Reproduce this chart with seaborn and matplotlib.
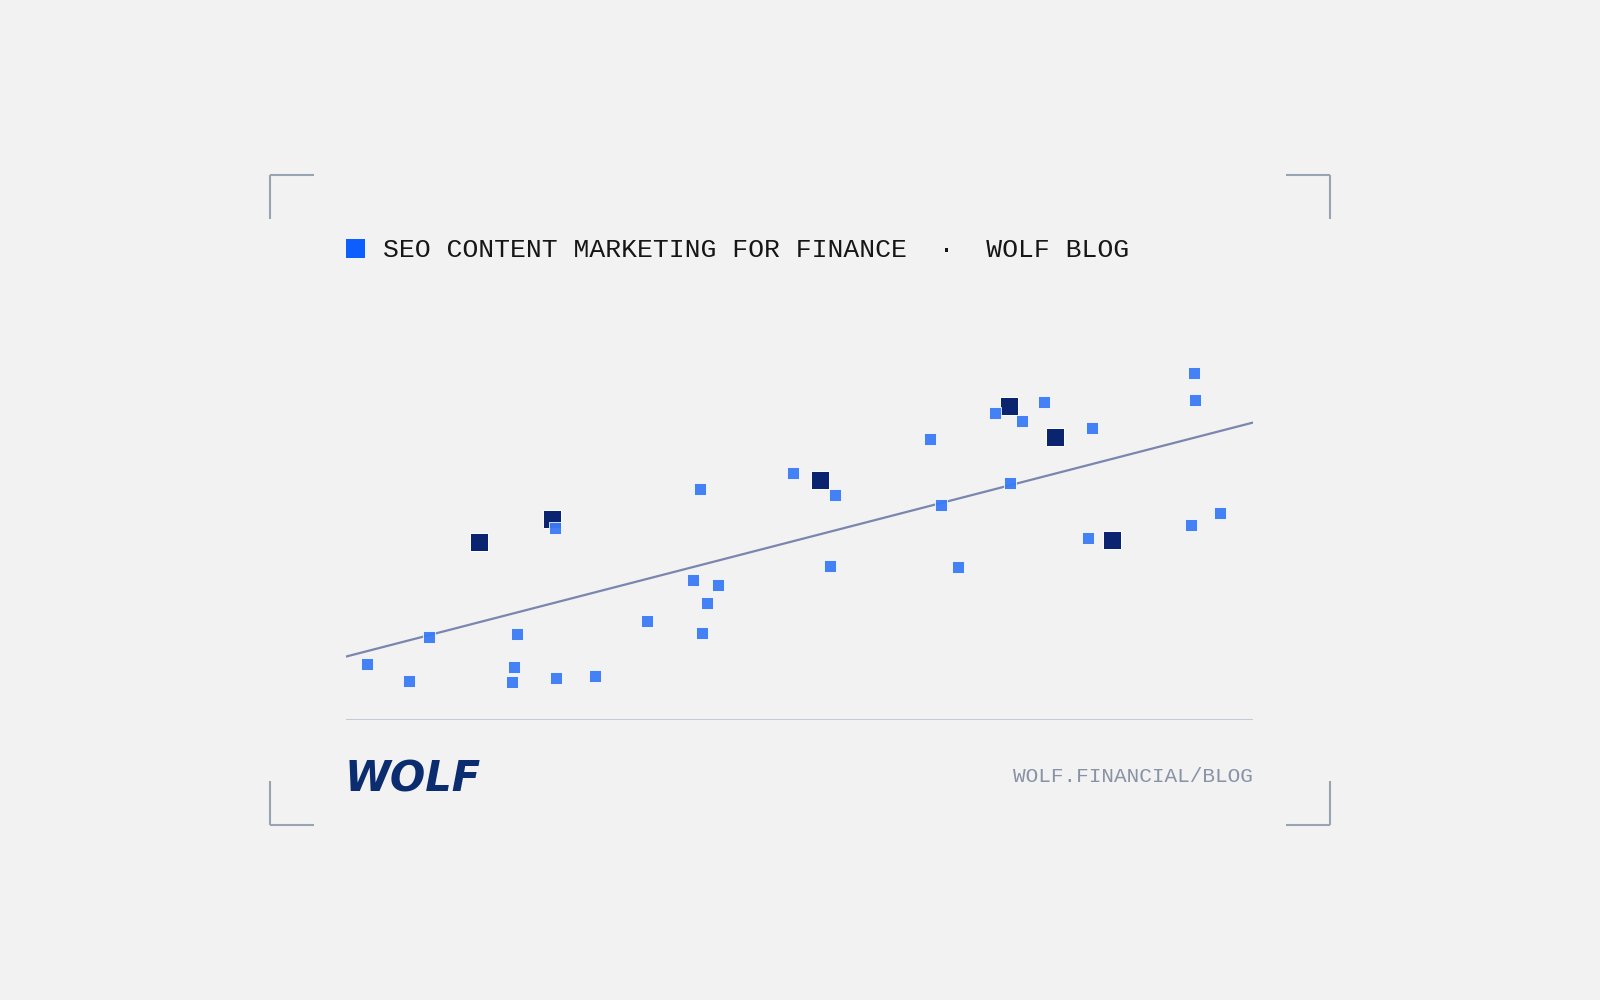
import matplotlib
matplotlib.use('Agg')
import matplotlib.pyplot as plt
import seaborn as sns
import pandas as pd
from matplotlib.lines import Line2D
from matplotlib.patches import Rectangle

# data (arbitrary units, 0-100 on both axes)
post_x = [23.0, 39.0, 38.3, 41.0, 39.8, 33.2, 39.2, 9.1, 18.8, 2.3, 6.9, 18.5, 18.3, 23.2, 27.4,
          93.5, 93.6, 77.0, 71.5, 74.5, 82.3, 64.4, 49.3, 53.9, 73.2, 65.6, 96.4, 93.2, 81.8, 53.4, 67.5]
post_y = [53.2, 64.1, 38.9, 37.3, 32.3, 27.4, 24.1, 22.9, 23.7, 15.4, 10.6, 14.7, 10.5, 11.5, 12.0,
          96.4, 89.0, 88.2, 85.2, 83.0, 81.2, 77.9, 68.7, 62.5, 65.9, 59.7, 57.4, 54.0, 50.4, 42.8, 42.5]
pillar_x = [14.7, 22.7, 52.3, 73.1, 78.2, 84.5]
pillar_y = [49.3, 55.7, 66.7, 87.2, 78.6, 49.8]
trend_x = [0, 100]
trend_y = [17.5, 82.6]

title = 'SEO CONTENT MARKETING FOR FINANCE  \u00b7  WOLF BLOG'
url = 'WOLF.FINANCIAL/BLOG'

bg = '#F2F2F2'
light = '#3A7BF6'
dark = '#0B2470'
corner_col = '#9AA3B1'

sns.set_theme(style='white')
plt.rcParams['font.family'] = ['Liberation Mono', 'DejaVu Sans Mono']

fig = plt.figure(figsize=(16, 10), dpi=100, facecolor=bg)
ax = fig.add_axes([0.21625, 0.2805, 0.566875, 0.3595])
ax.set_facecolor(bg)

posts = pd.DataFrame({'x': post_x, 'y': post_y})
pillars = pd.DataFrame({'x': pillar_x, 'y': pillar_y})
trend = pd.DataFrame({'x': trend_x, 'y': trend_y})

sns.lineplot(data=trend, x='x', y='y', color='#7A86AE', linewidth=1.6, ax=ax, zorder=1)
sns.scatterplot(data=pillars, x='x', y='y', marker='s', s=180, color=dark,
                edgecolor='white', linewidth=0.7, ax=ax, zorder=2)
sns.scatterplot(data=posts, x='x', y='y', marker='s', s=78, color=light, alpha=0.95,
                edgecolor='white', linewidth=0.6, ax=ax, zorder=3)

ax.axhline(0, color='#C5CAD9', linewidth=1.5, zorder=0)
ax.set_xlim(0, 100)
ax.set_ylim(0, 100)
ax.set_xlabel('')
ax.set_ylabel('')
ax.set_xticks([])
ax.set_yticks([])
for sp in ax.spines.values():
    sp.set_visible(False)

# title row
fig.add_artist(Rectangle((0.21625, 0.742), 0.011875, 0.019, transform=fig.transFigure,
                         facecolor='#0D5EFF', edgecolor='none'))
fig.text(0.2395, 0.743, title, fontsize=19, color='#161616', va='baseline', ha='left')

# footer
fig.text(0.783, 0.2184, url, fontsize=15.2, color='#8A93A6', va='baseline', ha='right')
fig.text(0.2155, 0.209, 'WOLF', fontsize=30, color='#0B2C6E', va='baseline', ha='left',
         family=['DejaVu Sans'], weight='bold', style='oblique')

# corner brackets (figure pixels -> fraction)
def corner(cx, cy, dx, dy):
    W, H = 1600.0, 1000.0
    fig.add_artist(Line2D([cx / W, (cx + dx) / W], [1 - cy / H, 1 - cy / H],
                          transform=fig.transFigure, color=corner_col, linewidth=1.5,
                          solid_capstyle='butt'))
    fig.add_artist(Line2D([cx / W, cx / W], [1 - cy / H, 1 - (cy + dy) / H],
                          transform=fig.transFigure, color=corner_col, linewidth=1.5,
                          solid_capstyle='butt'))

corner(270, 174.5, 44, 44)
corner(1329.5, 174.5, -44, 44)
corner(270, 824.5, 44, -44)
corner(1329.5, 824.5, -44, -44)

fig.savefig('out.png', dpi=100, facecolor=bg)
